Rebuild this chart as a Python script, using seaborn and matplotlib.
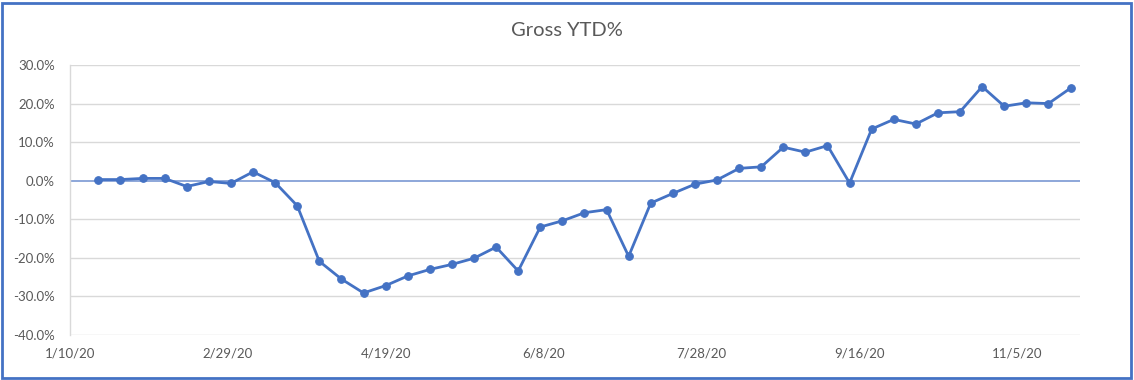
import numpy as np
import pandas as pd
import matplotlib
matplotlib.use("Agg")
import matplotlib.pyplot as plt
from matplotlib.ticker import FuncFormatter
from matplotlib.patches import Rectangle
import seaborn as sns

# ---- data ----
start_date = "2020-01-19"
n_points = 45
gross_ytd = [0.3, 0.3, 0.6, 0.6, -1.5, -0.2, -0.7, 2.3, -0.5, -6.5,
             -20.9, -25.5, -29.1, -27.2, -24.7, -23.0, -21.7, -20.1, -17.2, -23.4,
             -12.0, -10.4, -8.3, -7.5, -19.6, -5.8, -3.3, -0.9, 0.2, 3.2,
             3.6, 8.7, 7.4, 9.1, -0.6, 13.4, 15.9, 14.7, 17.6, 17.9,
             24.4, 19.3, 20.2, 20.0, 24.0]
x_tick_dates = ["2020-01-10", "2020-02-29", "2020-04-19", "2020-06-08",
                "2020-07-28", "2020-09-16", "2020-11-05"]
y_ticks = [-40, -30, -20, -10, 0, 10, 20, 30]
title = "Gross YTD%"

dates = pd.date_range(start_date, periods=n_points, freq="7D")
df = pd.DataFrame({"date": dates, "value": gross_ytd})

sns.set_theme(style="white")
plt.rcParams["font.family"] = ["Lato", "DejaVu Sans"]

BLUE = "#4472C4"
GRAY_TXT = "#595959"
GRID = "#D9D9D9"

fig = plt.figure(figsize=(11.34, 3.8), dpi=100)
ax = fig.add_axes([70 / 1134, 1 - 335 / 380, (1080 - 70) / 1134, (335 - 65) / 380])

for y in y_ticks:
    if y != 0:
        ax.axhline(y, color=GRID, lw=1, zorder=0)
ax.axhline(0, color="#6F8FD0", lw=1.1, zorder=1)

sns.lineplot(data=df, x="date", y="value", ax=ax, color=BLUE, lw=2.0,
             marker="o", markersize=5.5, markeredgecolor=BLUE, zorder=3)

ax.set_xlim(pd.Timestamp("2020-01-10"), pd.Timestamp("2020-11-25"))
ax.set_ylim(-40, 30)
ax.set_yticks(y_ticks)
ax.yaxis.set_major_formatter(FuncFormatter(lambda v, p: f"{v:.1f}%"))
tick_ts = [pd.Timestamp(d) for d in x_tick_dates]
ax.set_xticks(tick_ts)
ax.set_xticklabels([f"{t.month}/{t.day}/{t.strftime('%y')}" for t in tick_ts])
ax.tick_params(axis="both", length=0, labelsize=9.5, colors=GRAY_TXT)
ax.tick_params(axis="x", pad=9)
ax.tick_params(axis="y", pad=11)
ax.set_xlabel("")
ax.set_ylabel("")
for s in ["top", "right", "bottom"]:
    ax.spines[s].set_visible(False)
ax.spines["left"].set_color(GRID)
ax.spines["left"].set_linewidth(1)
ax.grid(False)

fig.text(0.5, 1 - 31 / 380, title, ha="center", va="center",
         fontsize=14.5, color=GRAY_TXT)

fig.patches.append(Rectangle((2 / 1134, 2 / 380), 1 - 5 / 1134, 1 - 5 / 380,
                             transform=fig.transFigure, fill=False,
                             edgecolor=BLUE, lw=2))

fig.savefig("out.png", dpi=100)
